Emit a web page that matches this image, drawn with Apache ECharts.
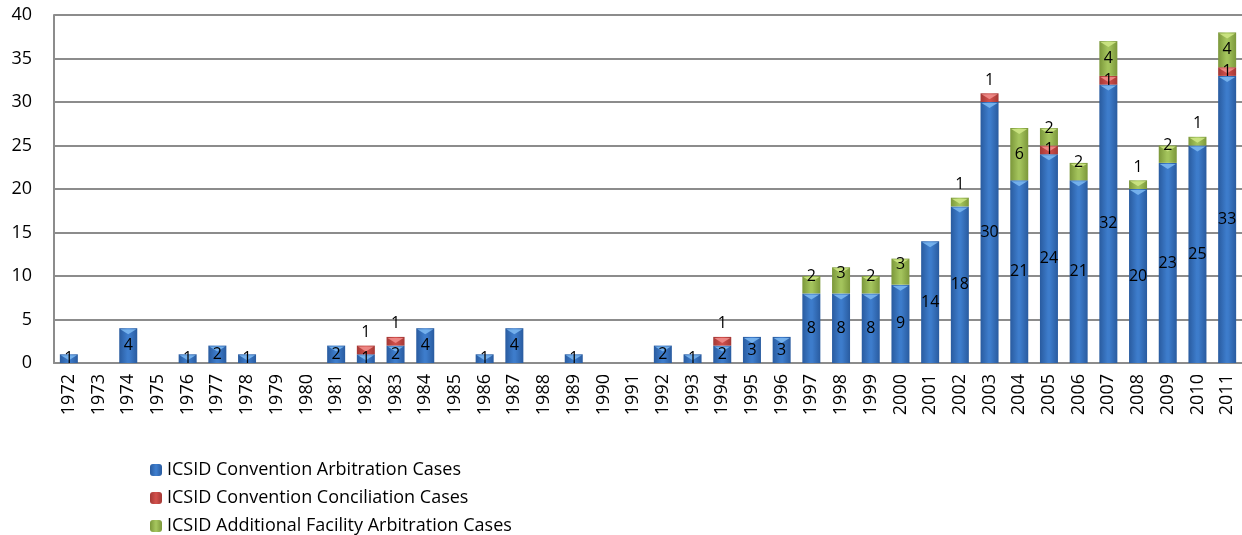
<!DOCTYPE html>
<html>
<head>
<meta charset="utf-8">
<script src="https://cdn.jsdelivr.net/npm/echarts@6/dist/echarts.min.js"></script>
<style>html,body{margin:0;padding:0;background:#fff}#c{width:1242px;height:535px}</style>
</head>
<body>
<div id="c"></div>
<script>
const years = ['1972','1973','1974','1975','1976','1977','1978','1979','1980','1981','1982','1983','1984','1985','1986','1987','1988','1989','1990','1991','1992','1993','1994','1995','1996','1997','1998','1999','2000','2001','2002','2003','2004','2005','2006','2007','2008','2009','2010','2011'];
const arbitration = [1,0,4,0,1,2,1,0,0,2,1,2,4,0,1,4,0,1,0,0,2,1,2,3,3,8,8,8,9,14,18,30,21,24,21,32,20,23,25,33];
const conciliation = [0,0,0,0,0,0,0,0,0,0,1,1,0,0,0,0,0,0,0,0,0,0,1,0,0,0,0,0,0,0,0,1,0,1,0,1,0,0,0,1];
const additional = [0,0,0,0,0,0,0,0,0,0,0,0,0,0,0,0,0,0,0,0,0,0,0,0,0,2,3,2,3,0,1,0,6,2,2,4,1,2,1,4];
const seriesNames = ['ICSID Convention Arbitration Cases','ICSID Convention Conciliation Cases','ICSID Additional Facility Arbitration Cases'];

const FONT = 'Open Sans';
function grad(edge, mid) {
  return {type:'linear', x:0, y:0, x2:1, y2:0, colorStops:[
    {offset:0, color:edge},{offset:0.45, color:mid},{offset:0.55, color:mid},{offset:1, color:edge}]};
}
const colors = [grad('#295b9f','#3d7ccb'), grad('#a33835','#cf4f4b'), grad('#7b973a','#a3c35c')];
const bevelColors = ['#7ab6f0', '#f08c89', '#cde584'];

const lists = [arbitration, conciliation, additional];

function labelFor(s, v, i) {
  if (s === 0) return {position:'inside'};
  if (s === 1) return {position: additional[i] ? 'inside' : 'top'};
  if (v === 1) return {position:'top'};
  if (v === 2) return {position:'top', distance:0, offset:[0,8]};
  if (v === 3) return {position:'top', distance:0, offset:[0,14]};
  return {position:'inside'};
}

// bevel chevrons at the top of each stacked segment: [categoryIndex, segmentTopValue, seriesIndex]
const bevelData = [];
years.forEach((y, i) => {
  let acc = 0;
  lists.forEach((arr, s) => { const v = arr[i]; if (v) { acc += v; bevelData.push([i, acc, s]); } });
});

const lbl = {show:true, color:'#000', fontSize:16, fontFamily:FONT,
  formatter: p => (p.value ? String(p.value) : '')};

const barSeries = lists.map((arr, s) => ({
  name:seriesNames[s], type:'bar', stack:'a', barWidth:18, z:2,
  data: arr.map(v => v ? v : '-'),
  itemStyle:{color:colors[s]}, label:{show:false}
}));
const labelSeries = lists.map((arr, s) => ({
  name:'lbl' + s, type:'bar', stack:'b', barWidth:18, barGap:'-100%', z:4, silent:true,
  data: arr.map((v, i) => v ? {value:v, label:labelFor(s, v, i)} : '-'),
  itemStyle:{color:'rgba(0,0,0,0)'}, label:Object.assign({}, lbl)
}));

const chart = echarts.init(document.getElementById('c'), null, {renderer:'canvas'});
chart.setOption({
  animation:false,
  textStyle:{fontFamily:FONT},
  grid:{left:54, right:0, top:15, bottom:172},
  legend:{
    orient:'vertical', left:145, top:456, height:90, itemWidth:12, itemHeight:12, itemGap:10,
    textStyle:{fontSize:18, color:'#000', fontFamily:FONT},
    data:seriesNames
  },
  xAxis:{
    type:'category', data:years,
    axisLine:{lineStyle:{color:'#8c8c8c', width:2}},
    axisTick:{show:false},
    axisLabel:{rotate:90, fontSize:18, color:'#000', margin:11, interval:0, fontFamily:FONT}
  },
  yAxis:{
    type:'value', min:0, max:40, interval:5,
    axisLine:{show:true, lineStyle:{color:'#8c8c8c', width:2}},
    axisTick:{show:false},
    splitLine:{lineStyle:{color:'#8c8c8c', width:2}},
    axisLabel:{fontSize:18, color:'#000', margin:22, fontFamily:FONT}
  },
  series: barSeries.concat([
    {name:'bevel', type:'custom', data:bevelData, z:3, silent:true,
     renderItem:(params, api) => {
       const p = api.coord([api.value(0), api.value(1)]);
       const hw = 8;
       return {type:'polygon', shape:{points:[[p[0]-hw, p[1]+1],[p[0]+hw, p[1]+1],[p[0], p[1]+6]]},
         style:{fill: bevelColors[api.value(2)], opacity:0.9}};
     }}
  ]).concat(labelSeries)
});
</script>
</body>
</html>
